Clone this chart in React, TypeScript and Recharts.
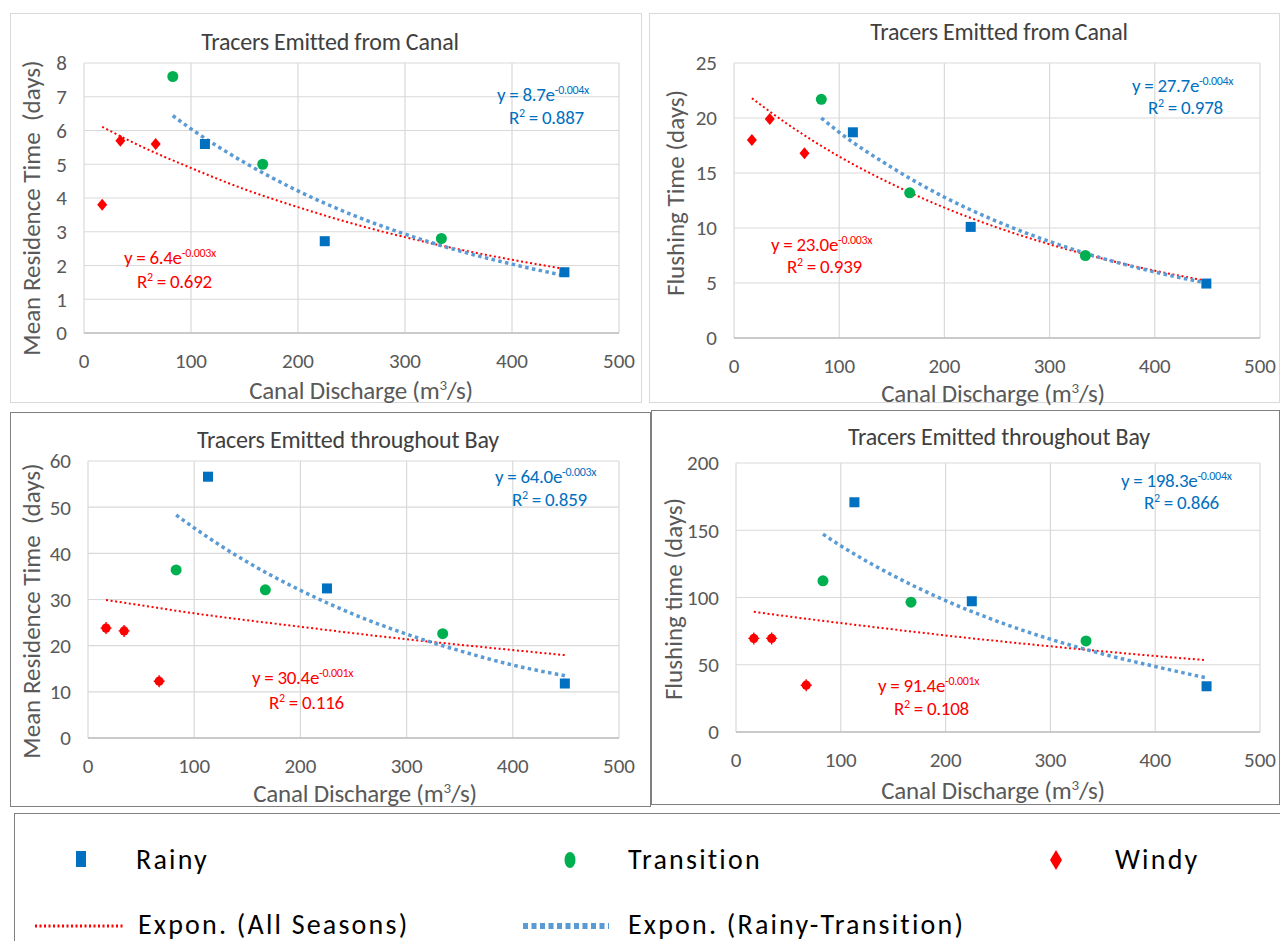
import React from "react";
import {
  ComposedChart,
  Scatter,
  Line,
  XAxis,
  YAxis,
  CartesianGrid,
} from "recharts";

// canal discharge (m3/s) of each simulated case, by season
const rainyQ = [113, 225, 449];
const transitionQ = [83, 167, 334];
const windyQ = [17, 34, 67];

// x positions used to read the two trend curves off the picture
const allSeasonsQ = [17, 50, 100, 150, 200, 250, 300, 350, 400, 449];
const rainyTransQ = [83, 100, 150, 200, 250, 300, 350, 400, 449];

const xTicks = [0, 100, 200, 300, 400, 500];

// mean residence time, tracers from canal (days)
const mrtCanalRainy = [5.6, 2.72, 1.8];
const mrtCanalTransition = [7.6, 5.0, 2.8];
const mrtCanalWindy = [3.8, 5.7, 5.6];
const mrtCanalAll = [6.11, 5.58, 4.89, 4.26, 3.73, 3.25, 2.84, 2.48, 2.17, 1.9];
const mrtCanalRT = [6.44, 6.05, 5.05, 4.21, 3.51, 2.93, 2.44, 2.04, 1.7];
const mrtCanalTicks = [0, 1, 2, 3, 4, 5, 6, 7, 8];

// flushing time, tracers from canal (days)
const ftCanalRainy = [18.7, 10.1, 4.95];
const ftCanalTransition = [21.7, 13.2, 7.5];
const ftCanalWindy = [18.0, 19.9, 16.8];
const ftCanalAll = [21.8, 19.5, 16.5, 14.0, 11.85, 10.05, 8.52, 7.22, 6.12, 5.2];
const ftCanalRT = [20.0, 18.7, 15.5, 12.8, 10.6, 8.77, 7.25, 6.0, 5.0];
const ftCanalTicks = [0, 5, 10, 15, 20, 25];

// mean residence time, tracers throughout bay (days)
const mrtBayRainy = [56.6, 32.4, 11.8];
const mrtBayTransition = [36.4, 32.1, 22.6];
const mrtBayWindy = [23.8, 23.2, 12.3];
const mrtBayAll = [29.9, 28.75, 27.0, 25.5, 24.1, 22.7, 21.4, 20.2, 19.05, 17.95];
const mrtBayRT = [48.3, 45.5, 38.1, 32.0, 26.8, 22.5, 18.9, 15.8, 13.5];
const mrtBayTicks = [0, 10, 20, 30, 40, 50, 60];

// flushing time, tracers throughout bay (days)
const ftBayRainy = [170.8, 97.2, 34];
const ftBayTransition = [112.4, 96.5, 67.7];
const ftBayWindy = [69.6, 69.6, 34.8];
const ftBayAll = [89.4, 85.9, 81.0, 76.3, 71.8, 67.6, 63.7, 60.0, 56.5, 53.4];
const ftBayRT = [147.1, 138.4, 116.3, 97.7, 82.1, 69.0, 58.0, 48.7, 40.2];
const ftBayTicks = [0, 50, 100, 150, 200];

const FONT = "Carlito, Lato, 'Liberation Sans', sans-serif";
const BLUE = "#0070C0";
const GREEN = "#00B050";
const RED = "#FF0000";
const TREND_BLUE = "#5B9BD5";

const pts = (xs: number[], ys: number[]) => xs.map((x, i) => ({ x, y: ys[i] }));

const Square = (p: any) => (
  <rect x={p.cx - 5} y={p.cy - 5} width={10} height={10} fill={BLUE} />
);
const Dot = (p: any) => <circle cx={p.cx} cy={p.cy} r={5.5} fill={GREEN} />;
const Diamond = (p: any) => (
  <path
    d={`M${p.cx},${p.cy - 6} L${p.cx + 5},${p.cy} L${p.cx},${p.cy + 6} L${p.cx - 5},${p.cy} Z`}
    fill={RED}
  />
);
const Star = (p: any) => (
  <g fill={RED} stroke={RED}>
    <circle cx={p.cx} cy={p.cy} r={4.6} stroke="none" />
    <path
      d={`M${p.cx - 5.5},${p.cy} L${p.cx + 5.5},${p.cy} M${p.cx},${p.cy - 6} L${p.cx},${p.cy + 6}`}
      strokeWidth={1.4}
    />
  </g>
);

type Eq = { a: string; exp: string; r2: string; x: number; y: number; rx: number; ry: number };

type PanelCfg = {
  box: { l: number; t: number; r: number; b: number };
  plot: { l: number; t: number; r: number; b: number };
  border: string;
  title: string;
  titlePos: [number, number];
  yLabel: string;
  yLabelPos: [number, number];
  xLabelPos: [number, number];
  yTicks: number[];
  rainy: number[];
  transition: number[];
  windy: number[];
  all: number[];
  rt: number[];
  windyShape: any;
  blueEq: Eq;
  redEq: Eq;
};

const panels: PanelCfg[] = [
  {
    box: { l: 10, t: 13, r: 642, b: 403 },
    plot: { l: 84, t: 63, r: 619, b: 333 },
    border: "#d9d9d9",
    title: "Tracers Emitted from Canal",
    titlePos: [330, 42],
    yLabel: "Mean Residence Time  (days)",
    yLabelPos: [31, 208],
    xLabelPos: [361, 390],
    yTicks: mrtCanalTicks,
    rainy: mrtCanalRainy,
    transition: mrtCanalTransition,
    windy: mrtCanalWindy,
    all: mrtCanalAll,
    rt: mrtCanalRT,
    windyShape: Diamond,
    blueEq: { a: "y = 8.7e", exp: "-0.004x", r2: "0.887", x: 497, y: 94, rx: 509, ry: 117 },
    redEq: { a: "y = 6.4e", exp: "-0.003x", r2: "0.692", x: 124, y: 257, rx: 137, ry: 281 },
  },
  {
    box: { l: 649, t: 13, r: 1280, b: 403 },
    plot: { l: 734, t: 63, r: 1260, b: 338 },
    border: "#d9d9d9",
    title: "Tracers Emitted from Canal",
    titlePos: [999, 32],
    yLabel: "Flushing Time (days)",
    yLabelPos: [675, 193],
    xLabelPos: [993, 393],
    yTicks: ftCanalTicks,
    rainy: ftCanalRainy,
    transition: ftCanalTransition,
    windy: ftCanalWindy,
    all: ftCanalAll,
    rt: ftCanalRT,
    windyShape: Diamond,
    blueEq: { a: "y = 27.7e", exp: "-0.004x", r2: "0.978", x: 1132, y: 85, rx: 1148, ry: 107 },
    redEq: { a: "y = 23.0e", exp: "-0.003x", r2: "0.939", x: 771, y: 244, rx: 787, ry: 266 },
  },
  {
    box: { l: 10, t: 412, r: 651, b: 807 },
    plot: { l: 88, t: 461, r: 619, b: 738 },
    border: "#808080",
    title: "Tracers Emitted throughout Bay",
    titlePos: [348, 440],
    yLabel: "Mean Residence Time  (days)",
    yLabelPos: [31, 611],
    xLabelPos: [365, 793],
    yTicks: mrtBayTicks,
    rainy: mrtBayRainy,
    transition: mrtBayTransition,
    windy: mrtBayWindy,
    all: mrtBayAll,
    rt: mrtBayRT,
    windyShape: Star,
    blueEq: { a: "y = 64.0e", exp: "-0.003x", r2: "0.859", x: 495, y: 476, rx: 512, ry: 499 },
    redEq: { a: "y = 30.4e", exp: "-0.001x", r2: "0.116", x: 252, y: 677, rx: 269, ry: 702 },
  },
  {
    box: { l: 651, t: 410, r: 1280, b: 805 },
    plot: { l: 736, t: 463, r: 1260, b: 732 },
    border: "#808080",
    title: "Tracers Emitted throughout Bay",
    titlePos: [999, 437],
    yLabel: "Flushing time (days)",
    yLabelPos: [673, 599],
    xLabelPos: [993, 790],
    yTicks: ftBayTicks,
    rainy: ftBayRainy,
    transition: ftBayTransition,
    windy: ftBayWindy,
    all: ftBayAll,
    rt: ftBayRT,
    windyShape: Star,
    blueEq: { a: "y = 198.3e", exp: "-0.004x", r2: "0.866", x: 1121, y: 480, rx: 1144, ry: 502 },
    redEq: { a: "y = 91.4e", exp: "-0.001x", r2: "0.108", x: 878, y: 685, rx: 894, ry: 708 },
  },
];

const textAt = (x: number, y: number, extra: React.CSSProperties = {}): React.CSSProperties => ({
  position: "absolute",
  left: x,
  top: y,
  transform: "translate(-50%, -50%)",
  whiteSpace: "nowrap",
  fontFamily: FONT,
  lineHeight: 1,
  ...extra,
});

function EqLabel({ eq, color }: { eq: Eq; color: string }) {
  const base: React.CSSProperties = {
    position: "absolute",
    whiteSpace: "nowrap",
    fontFamily: FONT,
    fontSize: 19,
    letterSpacing: -0.3,
    color,
    lineHeight: 1,
  };
  return (
    <>
      <div style={{ ...base, left: eq.x, top: eq.y - 10 }}>
        {eq.a}
        <sup style={{ fontSize: 12, verticalAlign: 7 }}>{eq.exp}</sup>
      </div>
      <div style={{ ...base, left: eq.rx, top: eq.ry - 10 }}>
        R<sup style={{ fontSize: 12, verticalAlign: 7 }}>2</sup> = {eq.r2}
      </div>
    </>
  );
}

function Panel({ cfg }: { cfg: PanelCfg }) {
  const { box, plot } = cfg;
  const w = box.r - box.l;
  const h = box.b - box.t;
  const yMax = cfg.yTicks[cfg.yTicks.length - 1];
  const tick = { fontSize: 21, fill: "#595959", fontFamily: FONT };
  return (
    <>
      <div
        style={{
          position: "absolute",
          left: box.l,
          top: box.t,
          width: w,
          height: h,
          border: `1.5px solid ${cfg.border}`,
          boxSizing: "border-box",
        }}
      />
      <div style={{ position: "absolute", left: box.l, top: box.t }}>
        <ComposedChart
          width={w}
          height={h}
          margin={{ top: plot.t - box.t, right: box.r - plot.r, bottom: 0, left: 0 }}
        >
          <CartesianGrid stroke="#d9d9d9" strokeWidth={1.2} />
          <XAxis
            type="number"
            dataKey="x"
            domain={[0, 500]}
            ticks={xTicks}
            height={box.b - plot.b}
            tick={tick}
            tickLine={false}
            tickSize={0}
            tickMargin={20}
            axisLine={{ stroke: "#bfbfbf", strokeWidth: 1.5 }}
            allowDataOverflow
          />
          <YAxis
            type="number"
            dataKey="y"
            domain={[0, yMax]}
            ticks={cfg.yTicks}
            width={plot.l - box.l}
            tick={tick}
            tickLine={false}
            tickSize={0}
            tickMargin={17}
            axisLine={false}
            allowDataOverflow
          />
          <Line
            data={pts(allSeasonsQ, cfg.all)}
            dataKey="y"
            type="monotone"
            stroke={RED}
            strokeWidth={2}
            strokeDasharray="2 2.6"
            dot={false}
            activeDot={false}
            isAnimationActive={false}
          />
          <Line
            data={pts(rainyTransQ, cfg.rt)}
            dataKey="y"
            type="monotone"
            stroke={TREND_BLUE}
            strokeWidth={3.5}
            strokeDasharray="3.5 3.4"
            dot={false}
            activeDot={false}
            isAnimationActive={false}
          />
          <Scatter data={pts(rainyQ, cfg.rainy)} dataKey="y" shape={Square} isAnimationActive={false} />
          <Scatter data={pts(transitionQ, cfg.transition)} dataKey="y" shape={Dot} isAnimationActive={false} />
          <Scatter data={pts(windyQ, cfg.windy)} dataKey="y" shape={cfg.windyShape} isAnimationActive={false} />
        </ComposedChart>
      </div>
      <div style={textAt(cfg.titlePos[0], cfg.titlePos[1], { fontSize: 24, color: "#404040", letterSpacing: -0.2 })}>
        {cfg.title}
      </div>
      <div style={textAt(cfg.xLabelPos[0], cfg.xLabelPos[1], { fontSize: 25, color: "#595959", letterSpacing: -0.2 })}>
        Canal Discharge (m<sup style={{ fontSize: 15, verticalAlign: 9 }}>3</sup>/s)
      </div>
      <div
        style={textAt(cfg.yLabelPos[0], cfg.yLabelPos[1], {
          fontSize: 25,
          color: "#595959",
          transform: "translate(-50%, -50%) rotate(-90deg)",
          whiteSpace: "pre",
        })}
      >
        {cfg.yLabel}
      </div>
      <EqLabel eq={cfg.blueEq} color={BLUE} />
      <EqLabel eq={cfg.redEq} color={RED} />
    </>
  );
}

function LegendBox() {
  const txt: React.CSSProperties = {
    position: "absolute",
    fontFamily: FONT,
    fontSize: 28,
    letterSpacing: 2.2,
    color: "#000",
    lineHeight: 1,
    whiteSpace: "nowrap",
  };
  return (
    <div
      style={{
        position: "absolute",
        left: 14,
        top: 813,
        width: 1280,
        height: 140,
        border: "1.5px solid #808080",
        boxSizing: "border-box",
      }}
    >
      <svg style={{ position: "absolute", left: 0, top: 0 }} width={1266} height={128}>
        <rect x={61} y={37} width={10} height={16} fill={BLUE} />
        <ellipse cx={555} cy={46} rx={5.5} ry={8} fill={GREEN} />
        <path d="M1041,36 L1047,46 L1041,56 L1035,46 Z" fill={RED} />
        <line x1={20} y1={112} x2={108} y2={112} stroke={RED} strokeWidth={3} strokeDasharray="2 2.5" />
        <line x1={508} y1={112} x2={594} y2={112} stroke={TREND_BLUE} strokeWidth={6} strokeDasharray="5 3.5" />
      </svg>
      <div style={{ ...txt, left: 121, top: 32 }}>Rainy</div>
      <div style={{ ...txt, left: 613, top: 32 }}>Transition</div>
      <div style={{ ...txt, left: 1100, top: 32 }}>Windy</div>
      <div style={{ ...txt, left: 123, top: 97 }}>Expon. (All Seasons)</div>
      <div style={{ ...txt, left: 613, top: 97 }}>Expon. (Rainy-Transition)</div>
    </div>
  );
}

export default function App() {
  return (
    <div
      style={{
        position: "absolute",
        left: 0,
        top: 0,
        width: 1280,
        height: 941,
        background: "#fff",
        overflow: "hidden",
      }}
    >
      {panels.map((p, i) => (
        <Panel key={i} cfg={p} />
      ))}
      <LegendBox />
    </div>
  );
}
